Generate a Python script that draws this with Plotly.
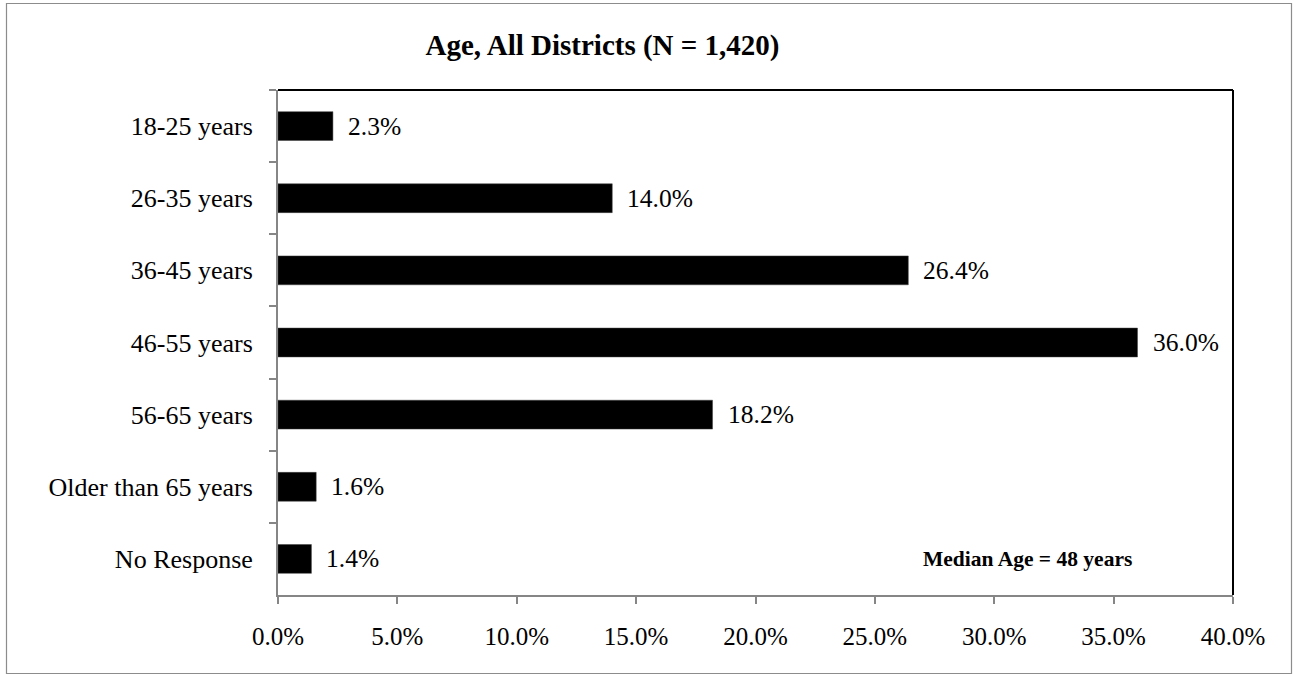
import plotly.graph_objects as go

# Survey results: respondent age groups, share of all districts
age_groups = ["18-25 years", "26-35 years", "36-45 years", "46-55 years",
              "56-65 years", "Older than 65 years", "No Response"]
shares = [2.3, 14.0, 26.4, 36.0, 18.2, 1.6, 1.4]
x_ticks = [0, 5, 10, 15, 20, 25, 30, 35, 40]
x_tick_labels = [f"{v:.1f}%" for v in x_ticks]

title_text = "<b>Age, All Districts (N = 1,420)</b>"
note_text = "<b>Median Age = 48 years</b>"

SERIF = "Liberation Serif, Times New Roman, serif"
W, H = 1298, 675
M_L, M_R, M_T, M_B = 278, 65, 90, 80
plot_w = W - M_L - M_R
plot_h = H - M_T - M_B

fig = go.Figure()
fig.add_trace(go.Bar(
    x=shares,
    y=age_groups,
    orientation="h",
    width=0.4,
    marker=dict(color="#000000", line=dict(color="#404040", width=0.5)),
    hoverinfo="skip",
))

# value labels to the right of each bar
for g, v in zip(age_groups, shares):
    fig.add_annotation(
        x=v, y=g, xref="x", yref="y",
        text=f"{v:.1f}%", showarrow=False,
        xanchor="left", yanchor="middle", xshift=13,
        font=dict(family=SERIF, size=25.5, color="#000000"),
    )

fig.add_annotation(
    x=31.4, y=age_groups[-1], xref="x", yref="y",
    text=note_text, showarrow=False,
    xanchor="center", yanchor="middle",
    font=dict(family=SERIF, size=21.5, color="#000000"),
)

# top and right frame of the plot area
fig.add_shape(type="line", xref="paper", yref="paper", x0=0, x1=1, y0=1, y1=1,
              line=dict(color="#000000", width=2))
fig.add_shape(type="line", xref="paper", yref="paper", x0=1, x1=1, y0=0, y1=1,
              line=dict(color="#000000", width=2))

# outer chart border
def px_to_paper_x(px):
    return (px - M_L) / plot_w

def px_to_paper_y(py):
    return (H - M_B - py) / plot_h

fig.add_shape(type="rect", xref="paper", yref="paper",
              x0=px_to_paper_x(6.5), x1=px_to_paper_x(1291.5),
              y0=px_to_paper_y(673.5), y1=px_to_paper_y(3.5),
              line=dict(color="#8c8c8c", width=1.2), fillcolor="rgba(0,0,0,0)",
              layer="below")

fig.update_layout(
    width=W, height=H,
    margin=dict(l=M_L, r=M_R, t=M_T, b=M_B, pad=0),
    paper_bgcolor="#ffffff",
    plot_bgcolor="#ffffff",
    showlegend=False,
    font=dict(family=SERIF, size=25, color="#000000"),
    title=dict(
        text=title_text,
        x=602.5 / W, xref="container", xanchor="center",
        y=1 - 45 / H, yref="container", yanchor="middle",
        font=dict(family=SERIF, size=29, color="#000000"),
    ),
    xaxis=dict(
        range=[0, 40],
        tickvals=x_ticks,
        ticktext=x_tick_labels,
        showgrid=False,
        zeroline=False,
        showline=True,
        linecolor="#868686",
        linewidth=2,
        ticks="outside",
        ticklen=7,
        tickwidth=2,
        tickcolor="#868686",
        ticklabelstandoff=11,
        tickfont=dict(family=SERIF, size=25, color="#000000"),
        fixedrange=True,
    ),
    yaxis=dict(
        type="category",
        categoryorder="array",
        categoryarray=age_groups,
        autorange="reversed",
        showgrid=False,
        zeroline=False,
        showline=True,
        linecolor="#868686",
        linewidth=2,
        ticks="outside",
        tickson="boundaries",
        ticklen=7,
        tickwidth=2,
        tickcolor="#868686",
        ticklabelstandoff=18,
        tickfont=dict(family=SERIF, size=26, color="#000000"),
        fixedrange=True,
    ),
)

fig.write_html("out.html", config={"displayModeBar": False})
